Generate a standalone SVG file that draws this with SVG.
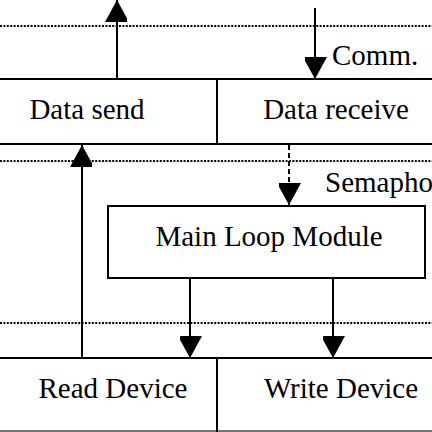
<svg xmlns="http://www.w3.org/2000/svg" width="432" height="432" viewBox="0 0 432 432">
<style>
.ln{stroke:#000;stroke-width:2;fill:none}
.dot{stroke:#000;stroke-width:2;stroke-dasharray:2 1.4;fill:none}
.dash{stroke:#000;stroke-width:2;stroke-dasharray:5 3;fill:none}
text{font-family:"Liberation Serif","Times New Roman",serif;font-size:29px;fill:#000}
</style>
<defs>
<marker id="ah" markerUnits="userSpaceOnUse" markerWidth="24" markerHeight="22" refX="22" refY="12" orient="auto">
<path d="M0,0 L22,12 L0,24 Z" fill="#000"/>
</marker>
</defs>
<rect width="432" height="432" fill="#fff"/>
<g id="layers">
<line class="dot" x1="0" y1="26" x2="432" y2="26"/>
<line class="dot" x1="0" y1="161" x2="432" y2="161"/>
<line class="dot" x1="0" y1="323" x2="432" y2="323"/>
</g>
<g id="comm-layer">
<line class="ln" x1="0" y1="79" x2="432" y2="79"/>
<line class="ln" x1="0" y1="144" x2="432" y2="144"/>
</g>
<g id="data-send">
<text x="87" y="119" text-anchor="middle">Data send</text>
</g>
<g id="data-receive">
<line class="ln" x1="217" y1="79" x2="217" y2="144"/>
<text x="336" y="119" text-anchor="middle">Data receive</text>
</g>
<g id="main-loop">
<rect class="ln" x="108" y="206" width="317" height="72"/>
<text x="269" y="246" text-anchor="middle">Main Loop Module</text>
</g>
<g id="device-layer">
<line class="ln" x1="0" y1="358" x2="432" y2="358"/>
<line x1="0" y1="431" x2="432" y2="431" stroke="#777" stroke-width="2"/>
</g>
<g id="read-device">
<text x="113" y="398" text-anchor="middle">Read Device</text>
</g>
<g id="write-device">
<line class="ln" x1="217" y1="358" x2="217" y2="432"/>
<text x="341" y="398" text-anchor="middle">Write Device</text>
</g>
<g id="labels">
<text x="332" y="65">Comm.</text>
<text x="325" y="192">Semaphore</text>
</g>
<g id="connectors">
<line class="ln" x1="117" y1="79" x2="117" y2="0" marker-end="url(#ah)"/>
<line class="ln" x1="315" y1="8" x2="315" y2="79" marker-end="url(#ah)"/>
<line class="ln" x1="82" y1="358" x2="82" y2="145" marker-end="url(#ah)"/>
<line class="dash" x1="289" y1="145" x2="289" y2="184"/>
<line class="ln" x1="289" y1="183" x2="289" y2="205" marker-end="url(#ah)"/>
<line class="ln" x1="190" y1="278" x2="190" y2="358" marker-end="url(#ah)"/>
<line class="ln" x1="333" y1="278" x2="333" y2="358" marker-end="url(#ah)"/>
</g>
</svg>
